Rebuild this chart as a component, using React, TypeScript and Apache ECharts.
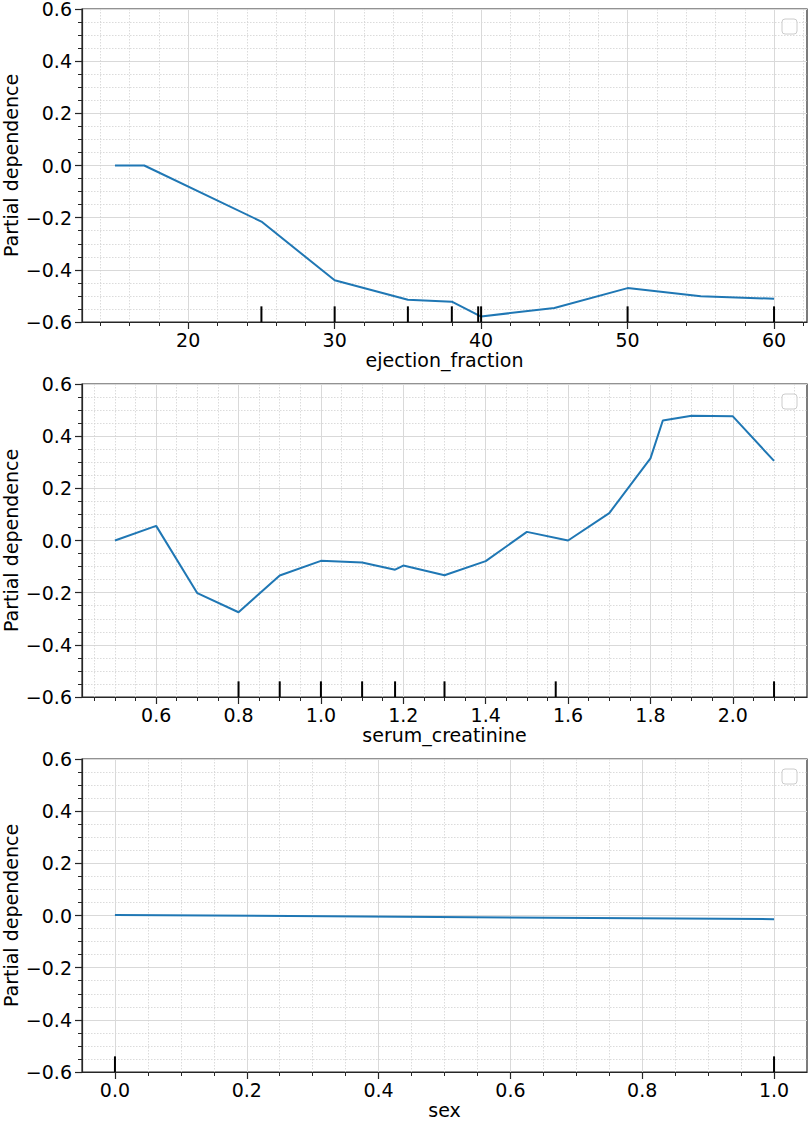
import React, { useEffect, useRef } from "react";
import * as echarts from "echarts";

// ---- data ----
const efX = [15, 17, 25, 30, 35, 38, 40, 45, 50, 55, 60];
const efY = [0.0, 0.0, -0.215, -0.44, -0.515, -0.522, -0.579, -0.546, -0.47, -0.501, -0.511];
const efRug = [25, 30, 35, 38, 39.8, 40, 50, 60];
const efTicks = [20, 30, 40, 50, 60];

const scX = [0.5, 0.6, 0.7, 0.8, 0.9, 1.0, 1.1, 1.18, 1.2, 1.3, 1.4, 1.5, 1.6, 1.7, 1.8, 1.83, 1.9, 2.0, 2.1];
const scY = [0.0, 0.056, -0.202, -0.275, -0.134, -0.078, -0.084, -0.112, -0.096, -0.133, -0.079, 0.033, 0.0, 0.105, 0.315, 0.46, 0.478, 0.476, 0.305];
const scRug = [0.8, 0.9, 1.0, 1.1, 1.18, 1.3, 1.57, 2.1];
const scTicks = [0.6, 0.8, 1.0, 1.2, 1.4, 1.6, 1.8, 2.0];

const sexX = [0, 1];
const sexY = [0.002, -0.014];
const sexRug = [0, 1];
const sexTicks = [0.0, 0.2, 0.4, 0.6, 0.8, 1.0];

const yTicks = [-0.6, -0.4, -0.2, 0.0, 0.2, 0.4, 0.6];
const yLabel = "Partial dependence";

const FONT = "DejaVu Sans";
const AXIS_COLOR = "#262626";

const fmt = (v: number, d: number) => {
  const r = Math.abs(v) < 1e-9 ? 0 : v;
  return (r < 0 ? "\u2212" : "") + Math.abs(r).toFixed(d);
};

const panels = [
  { name: "ejection_fraction", x: efX, y: efY, rug: efRug, ticks: efTicks, minorStep: 2, digits: 0 },
  { name: "serum_creatinine", x: scX, y: scY, rug: scRug, ticks: scTicks, minorStep: 0.05, digits: 1 },
  { name: "sex", x: sexX, y: sexY, rug: sexRug, ticks: sexTicks, minorStep: 0.05, digits: 1 },
];

function minorTicks(min: number, max: number, step: number, majors: number[]) {
  const out: number[] = [];
  const start = Math.ceil(min / step - 1e-9);
  for (let k = start; k * step < max - 1e-9; k++) {
    const v = Math.round(k * step * 1e6) / 1e6;
    if (v <= min + 1e-9) continue;
    if (majors.some((m) => Math.abs(m - v) < 1e-6)) continue;
    out.push(v);
  }
  return out;
}

export default function App() {
  const ref = useRef<HTMLDivElement>(null);
  useEffect(() => {
    document.body.style.margin = "0";
    if (!ref.current) return;
    const chart = echarts.init(ref.current, undefined, { renderer: "svg" });

    const grids: any[] = [];
    const xAxes: any[] = [];
    const yAxes: any[] = [];
    const series: any[] = [];
    const graphics: any[] = [];

    const majorGrid = { color: "#d9d9d9", width: 1 };
    const minorGrid = { color: "#d2d2d2", width: 0.8, type: [1.5, 1.5] };

    panels.forEach((p, i) => {
      const top = 9 + i * 375;
      const xmin0 = Math.min(...p.x);
      const xmax0 = Math.max(...p.x);
      const pad = (xmax0 - xmin0) * 0.05;
      const xmin = xmin0 - pad;
      const xmax = xmax0 + pad;
      const minors = minorTicks(xmin, xmax, p.minorStep, p.ticks);

      grids.push({
        left: 82,
        top,
        width: 725,
        height: 313,
        show: true,
        borderColor: AXIS_COLOR,
        borderWidth: 1.2,
        backgroundColor: "transparent",
        containLabel: false,
        outerBoundsMode: "none",
      });

      xAxes.push({
        type: "value",
        gridIndex: i,
        min: xmin,
        max: xmax,
        position: "bottom",
        axisLine: { show: true, onZero: false, lineStyle: { color: AXIS_COLOR, width: 1.2 } },
        axisTick: { show: true, length: 7, customValues: p.ticks, lineStyle: { color: AXIS_COLOR, width: 1.2 } },
        axisLabel: {
          customValues: p.ticks,
          formatter: (v: number) => fmt(v, p.digits),
          color: "#000",
          fontSize: 19,
          lineHeight: 17,
          fontFamily: FONT,
          margin: 9,
        },
        splitLine: { show: true, lineStyle: majorGrid },
        name: p.name,
        nameLocation: "middle",
        nameGap: 28,
        nameMoveOverlap: false,
        nameTextStyle: { color: "#000", fontSize: 19, lineHeight: 19, fontFamily: FONT },
      });
      xAxes.push({
        type: "value",
        gridIndex: i,
        min: xmin,
        max: xmax,
        position: "bottom",
        axisLine: { show: false, onZero: false },
        axisTick: { show: true, length: 4, customValues: minors, lineStyle: { color: AXIS_COLOR, width: 1 } },
        axisLabel: { show: false },
        splitLine: { show: true, lineStyle: minorGrid },
      });

      yAxes.push({
        type: "value",
        gridIndex: i,
        min: yTicks[0],
        max: yTicks[yTicks.length - 1],
        interval: 0.2,
        axisLine: { show: true, onZero: false, lineStyle: { color: AXIS_COLOR, width: 1.2 } },
        axisTick: { show: true, length: 7, lineStyle: { color: AXIS_COLOR, width: 1.2 } },
        minorTick: { show: true, splitNumber: 4, length: 4, lineStyle: { color: AXIS_COLOR, width: 1 } },
        axisLabel: {
          formatter: (v: number) => fmt(v, 1),
          color: "#000",
          fontSize: 19,
          lineHeight: 17,
          fontFamily: FONT,
          margin: 10,
        },
        splitLine: { show: true, lineStyle: majorGrid },
        minorSplitLine: { show: true, lineStyle: minorGrid },
        name: yLabel,
        nameLocation: "middle",
        nameGap: 62,
        nameMoveOverlap: false,
        nameTextStyle: { color: "#000", fontSize: 19, fontFamily: FONT },
      });

      series.push({
        type: "line",
        xAxisIndex: 2 * i,
        yAxisIndex: i,
        data: p.x.map((v, k) => [v, p.y[k]]),
        symbol: "none",
        showSymbol: false,
        lineStyle: { color: "#1f77b4", width: 2 },
        z: 3,
      });
      series.push({
        type: "custom",
        xAxisIndex: 2 * i,
        yAxisIndex: i,
        data: p.rug.map((v) => [v, yTicks[0]]),
        encode: { x: 0, y: 1 },
        z: 4,
        renderItem: (_params: any, api: any) => {
          const xv = api.value(0);
          const p0 = api.coord([xv, yTicks[0]]);
          const p1 = api.coord([xv, yTicks[0] + 0.06]);
          return {
            type: "line",
            shape: { x1: p0[0], y1: p0[1], x2: p1[0], y2: p1[1] },
            style: { stroke: "#000", lineWidth: 2 },
          };
        },
      });

      graphics.push({
        type: "rect",
        x: 782,
        y: top + 10,
        shape: { x: 0, y: 0, width: 15, height: 15, r: 3 },
        style: { fill: "rgba(255,255,255,0.8)", stroke: "#cccccc", lineWidth: 1 },
        z: 10,
      });
    });

    chart.setOption({
      animation: false,
      backgroundColor: "#ffffff",
      grid: grids,
      xAxis: xAxes,
      yAxis: yAxes,
      series,
      graphic: graphics,
    });
    return () => chart.dispose();
  }, []);
  return <div ref={ref} style={{ width: 810, height: 1122 }} />;
}
